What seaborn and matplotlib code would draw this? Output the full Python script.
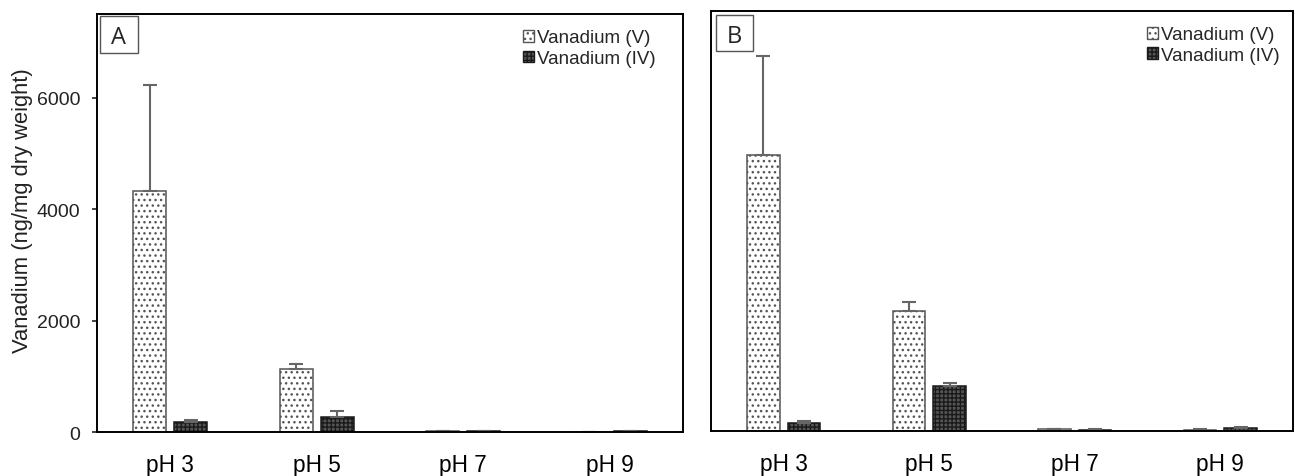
import matplotlib
matplotlib.use("Agg")
import matplotlib.pyplot as plt
from matplotlib.patches import Patch, Rectangle
import seaborn as sns
import pandas as pd
import numpy as np

sns.set_theme(style="white")
plt.rcParams['font.family'] = ['Liberation Sans', 'DejaVu Sans']
plt.rcParams['hatch.linewidth'] = 1.0

categories = ["pH 3", "pH 5", "pH 7", "pH 9"]
species = ["Vanadium (V)", "Vanadium (IV)"]

a_v = [4330, 1130, 15, 5]
a_v_err = [1900, 90, 5, 3]
a_iv = [185, 275, 10, 20]
a_iv_err = [30, 110, 5, 5]

b_v = [4920, 2150, 28, 25]
b_v_err = [1780, 160, 5, 5]
b_iv = [140, 810, 25, 52]
b_iv_err = [45, 50, 5, 18]

panel_labels = ["A", "B"]
y_ticks = [0, 2000, 4000, 6000]
y_label = "Vanadium (ng/mg dry weight)"


def make_df(v, iv):
    rows = []
    for c, val in zip(categories, v):
        rows.append({"pH": c, "species": species[0], "value": val})
    for c, val in zip(categories, iv):
        rows.append({"pH": c, "species": species[1], "value": val})
    return pd.DataFrame(rows)


fig = plt.figure(figsize=(12.95, 4.77), dpi=100)
axA = fig.add_axes([0.0749, 0.0922, 0.4525, 0.876])
axB = fig.add_axes([0.549, 0.0943, 0.4495, 0.8805])

styles = [
    dict(facecolor="white", edgecolor="#555555", hatch="..."),
    dict(facecolor="#555555", edgecolor="#1a1a1a", hatch="++++"),
]
legend_anchor = {"A": (0.975, 0.995), "B": (1.0, 0.995)}
# label box: (x0, y0, w, h) in axes coords, text x, baseline y
label_box = {"A": (0.005, 0.907, 0.065, 0.088, 0.0375, 0.931),
             "B": (0.0086, 0.905, 0.0634, 0.085, 0.0403, 0.926)}

for ax, (v, verr, iv, iverr), lab in zip(
        [axA, axB],
        [(a_v, a_v_err, a_iv, a_iv_err), (b_v, b_v_err, b_iv, b_iv_err)],
        panel_labels):
    df = make_df(v, iv)
    sns.barplot(data=df, x="pH", y="value", hue="species", order=categories,
                hue_order=species, errorbar=None, width=0.56, gap=0.2,
                legend=False, ax=ax)
    errs = [verr, iverr]
    bar_containers = list(ax.containers)
    for k, cont in enumerate(bar_containers):
        xs, ys = [], []
        for p in cont.patches:
            p.set_facecolor(styles[k]["facecolor"])
            p.set_edgecolor(styles[k]["edgecolor"])
            p.set_hatch(styles[k]["hatch"])
            p.set_linewidth(1.1)
            xs.append(p.get_x() + p.get_width() / 2)
            ys.append(p.get_height())
        ax.errorbar(xs, ys, yerr=[np.zeros(len(ys)), errs[k]], fmt="none",
                    ecolor="#666666", elinewidth=1.5, capsize=4.7, capthick=1.5,
                    zorder=1)
    ax.set_ylim(0, 7500)
    ax.set_xlim(-0.5, 3.5)
    ax.set_xlabel("")
    for s in ax.spines.values():
        s.set_color("black")
        s.set_linewidth(1.4)
    ax.tick_params(axis="x", labelsize=16.3, length=0, pad=15, colors="black")
    ax.tick_params(axis="y", labelsize=14, colors="#222222", direction="out",
                   length=3.6, width=1.2, left=True, pad=8.5)
    x0, y0, w, h, tx, ty = label_box[lab]
    ax.add_patch(Rectangle((x0, y0), w, h, transform=ax.transAxes,
                           facecolor="white", edgecolor="#555555",
                           linewidth=1.0, zorder=5, clip_on=False))
    ax.text(tx, ty, lab, transform=ax.transAxes, fontsize=17,
            va="baseline", ha="center", family=["Open Sans", "DejaVu Sans"],
            zorder=6)
    handles = [Patch(facecolor=styles[i]["facecolor"],
                     edgecolor=styles[i]["edgecolor"],
                     hatch=styles[i]["hatch"], label=species[i])
               for i in range(2)]
    ax.legend(handles=handles, loc="upper right", bbox_to_anchor=legend_anchor[lab],
              frameon=False, fontsize=13.5,
              handlelength=0.6, handleheight=0.6, handletextpad=0.15,
              labelspacing=0.2, borderaxespad=0.3)

axA.set_yticks(y_ticks)
axA.set_yticklabels([str(t) for t in y_ticks])
axA.set_ylabel(y_label, fontsize=15.8, color="#222222")
axA.yaxis.set_label_coords(-0.110, 0.533)
axB.set_yticks([])
axB.set_ylabel("")

fig.savefig("out.png", dpi=100)
